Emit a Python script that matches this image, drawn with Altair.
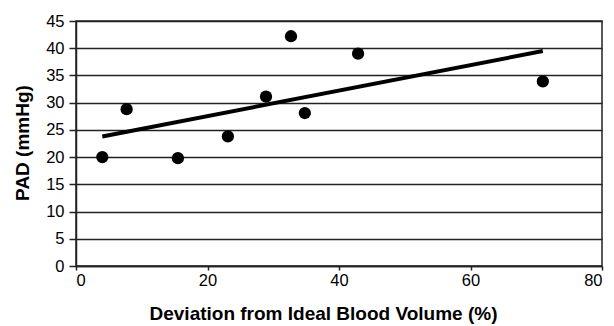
import altair as alt
import pandas as pd

deviation = [4.0, 7.7, 15.5, 23.1, 28.9, 32.7, 34.8, 42.9, 71.0]
pad = [20.0, 28.8, 19.8, 23.8, 31.1, 42.2, 28.1, 39.0, 33.9]

df = pd.DataFrame({"dev": deviation, "pad": pad})

FONT = "Liberation Sans"

x_axis = alt.Axis(
    values=[0, 20, 40, 60, 80],
    title="Deviation from Ideal Blood Volume (%)",
    grid=False,
    tickSize=4,
    labelPadding=2,
    titleX=247,
    titleY=47,
    titleBaseline="middle",
)
y_axis = alt.Axis(
    values=list(range(0, 50, 5)),
    title="PAD (mmHg)",
    grid=True,
    tickSize=7,
    labelPadding=5,
    titleX=-54,
    titleY=121.5,
    titleBaseline="middle",
)

x_enc = alt.X("dev:Q", scale=alt.Scale(domain=[0, 80], nice=False), axis=x_axis)
y_enc = alt.Y("pad:Q", scale=alt.Scale(domain=[0, 45], nice=False), axis=y_axis)

points = alt.Chart(df).mark_circle(size=150, color="black", opacity=1).encode(x=x_enc, y=y_enc)

trend = (
    alt.Chart(df)
    .transform_regression("dev", "pad")
    .mark_line(color="black", strokeWidth=4)
    .encode(x=x_enc, y=y_enc)
)

chart = (
    alt.layer(trend, points)
    .properties(
        width=526,
        height=245,
        autosize=alt.AutoSizeParams(type="none"),
        padding={"left": 76, "top": 21, "right": 12, "bottom": 60},
    )
    .configure(background="white")
    .configure_view(stroke="#222222", strokeWidth=1.5)
    .configure_axis(
        labelFont=FONT,
        labelFontSize=16.5,
        labelColor="black",
        labelOverlap=False,
        titleFont=FONT,
        titleFontSize=19,
        titleFontWeight="bold",
        titleColor="black",
        domainColor="#222222",
        domainWidth=1.5,
        tickColor="#222222",
        tickWidth=1.5,
        gridColor="#222222",
        gridWidth=1.5,
        gridOpacity=1,
    )
)

chart.save("out.html", embed_options={"renderer": "svg", "actions": False})
